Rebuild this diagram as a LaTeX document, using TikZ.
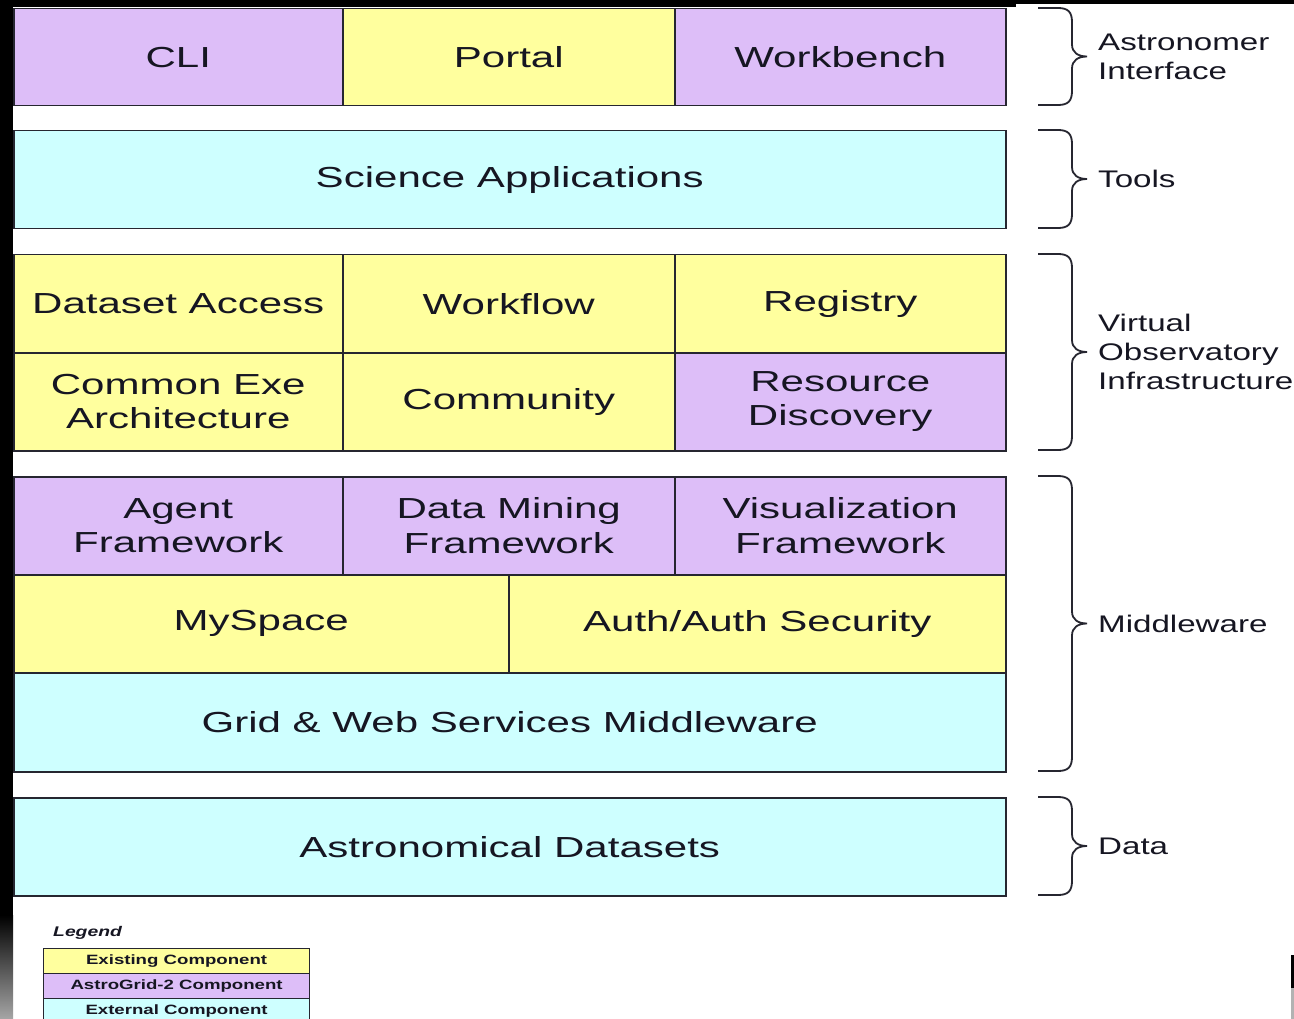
\documentclass[tikz,border=0pt]{standalone}
\usepackage{fontspec}
\setmainfont{Liberation Sans}[FakeStretch=1.38]
\newfontfamily\boxfont{Liberation Sans}[FakeStretch=1.45]
\usetikzlibrary{positioning}

\definecolor{agpurple}{RGB}{221,190,248}
\definecolor{exyellow}{RGB}{255,255,158}
\definecolor{excyan}{RGB}{206,255,255}
\definecolor{edge}{RGB}{38,38,48}
\definecolor{ink}{RGB}{22,22,34}

\newcommand{\mainsize}{\boxfont\fontsize{29}{34.5}\selectfont}
\newcommand{\sidesize}{\fontsize{24}{29}\selectfont}
\newcommand{\legsize}{\fontsize{13.5}{16}\selectfont\bfseries}

\tikzset{
  comp/.style={draw=edge, line width=1.5pt, anchor=north west, inner sep=0pt,
               align=center, text=ink, font=\mainsize},
  dims/.style 2 args={minimum width=#1pt, minimum height=#2pt},
  existing/.style={comp, fill=exyellow},
  newcomp/.style={comp, fill=agpurple},
  external/.style={comp, fill=excyan},
  layerbrace/.style={draw=edge, line width=1.8pt},
  sidelabel/.style={anchor=west, align=left, text=ink, font=\sidesize, inner sep=0pt},
  legrow/.style={draw=edge, line width=1.2pt, anchor=north west, inner sep=0pt,
                 minimum width=266pt, minimum height=25pt, font=\legsize, text=ink},
}

\begin{document}
\begin{tikzpicture}[x=1pt, y=-1pt]
  \clip (0,0) rectangle (1294,1019);
  \fill[white] (0,0) rectangle (1294,1019);

  % dark frame along the edges
  \fill[black] (0,0) rectangle (13,1019);
  \fill[black] (0,0) rectangle (1016,7);
  \fill[black] (1016,0) rectangle (1294,4);
  \shade[top color=black, middle color=gray!30, bottom color=gray!70] (0,915) rectangle (13,1019);
  \fill[black] (1291,955) rectangle (1294,988);
  \fill[gray!60] (1291,988) rectangle (1294,1019);

  % Astronomer interface
  \node[newcomp,  dims={329}{97}] (cli)       at (13,8)   {CLI};
  \node[existing, dims={332}{97}] (portal)    at (342,8)  {Portal};
  \node[newcomp,  dims={331}{97}] (workbench) at (674,8)  {Workbench};

  % Tools
  \node[external, dims={992}{98}] (sciapps) at (13,130) {Science Applications};

  % Virtual observatory infrastructure
  \node[existing, dims={329}{98}] (dataset)   at (13,254)  {Dataset Access};
  \node[existing, dims={332}{98}] (workflow)  at (342,254) {Workflow};
  \node[existing, dims={331}{98}] (registry)  at (674,254) {Registry};
  \node[existing, dims={329}{98}] (cea)       at (13,352)  {Common Exe\\Architecture};
  \node[existing, dims={332}{98}] (community) at (342,352) {Community};
  \node[newcomp,  dims={331}{98}] (resdisc)   at (674,352) {Resource\\Discovery};

  % Middleware
  \node[newcomp,  dims={329}{98}] (agent)   at (13,476)  {Agent\\Framework};
  \node[newcomp,  dims={332}{98}] (mining)  at (342,476) {Data Mining\\Framework};
  \node[newcomp,  dims={331}{98}] (visual)  at (674,476) {Visualization\\Framework};
  \node[existing, dims={495}{98}] (myspace) at (13,574)  {MySpace};
  \node[existing, dims={497}{98}] (auth)    at (508,574) {Auth/Auth Security};
  \node[external, dims={992}{99}] (grid)    at (13,672)  {Grid \& Web Services Middleware};

  % Data
  \node[external, dims={992}{98}] (datasets) at (13,797) {Astronomical Datasets};

  % braces grouping the layers
  \foreach \t/\b/\nm/\txt in {8/105/astro/{Astronomer\\Interface},
                              130/228/tools/{Tools},
                              254/450/vo/{Virtual\\Observatory\\Infrastructure},
                              476/771/mw/{Middleware},
                              797/895/data/{Data}} {
    \pgfmathsetmacro{\m}{(\t+\b)/2}
    \draw[layerbrace] (1038,\t) -- (1058,\t)
      .. controls (1068,\t) and (1072,\t+4) .. (1072,\t+14)
      -- (1072,\m-12)
      .. controls (1072,\m-4) and (1078,\m) .. (1087,\m)
      .. controls (1078,\m) and (1072,\m+4) .. (1072,\m+12)
      -- (1072,\b-14)
      .. controls (1072,\b-4) and (1068,\b) .. (1058,\b) -- (1038,\b);
    \node[sidelabel] (lbl-\nm) at (1098,\m) {\txt};
  }

  % legend
  \node[anchor=south west, inner sep=0pt, font=\fontsize{14}{16}\selectfont\bfseries\itshape, text=ink]
    (legtitle) at (53,940) {Legend};
  \node[legrow, fill=exyellow] (legexist) at (43,948) {Existing Component};
  \node[legrow, fill=agpurple] (legnew)   at (43,973) {AstroGrid-2 Component};
  \node[legrow, fill=excyan]   (legext)   at (43,998) {External Component};
\end{tikzpicture}
\end{document}
